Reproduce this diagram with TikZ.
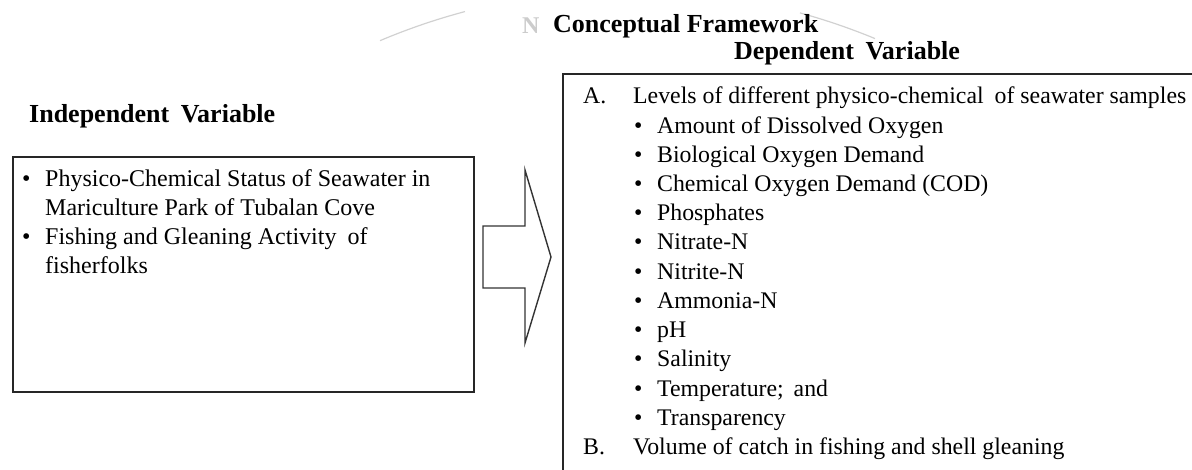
\documentclass[tikz,border=0pt]{standalone}
\usepackage{fontspec}
\setmainfont{Liberation Serif}
\begin{document}
\begin{tikzpicture}[x=1pt,y=-1pt,
  boxline/.style={draw=black!85,line width=1.8pt},
  body/.style={anchor=base west,inner sep=0pt,font=\fontsize{24}{29}\selectfont},
  bodyr/.style={anchor=base west,inner sep=0pt,font=\fontsize{23.8}{29}\selectfont},
  headtxt/.style={anchor=base west,inner sep=0pt,font=\fontsize{26}{30}\selectfont\bfseries},
  wm/.style={draw=black!18,line width=1.2pt},
  wmtxt/.style={anchor=base west,inner sep=0pt,text=black!20,font=\fontsize{24}{28}\selectfont\bfseries}]
\useasboundingbox (0,0) rectangle (1192,470);
\clip (0,0) rectangle (1192,470);
% faint watermark
\draw[wm] plot[domain=380:465,samples=30] (\x,{632-642*sqrt(1-((\x-630)/642)^2)});
\draw[wm] plot[domain=800:875,samples=30] (\x,{632-642*sqrt(1-((\x-630)/642)^2)});
\node[wmtxt] (wm1) at (522,34) {N};
% headings
\node[headtxt] (title) at (553,33) {Conceptual Framework};
\node[headtxt] (dvlabel) at (734,60) {Dependent\hspace{5pt} Variable};
\node[headtxt] (ivlabel) at (29,123) {Independent\hspace{5pt} Variable};
% boxes
\node[boxline,anchor=north west,minimum width=461pt,minimum height=235pt,inner sep=0pt] (ivbox) at (12,156) {};
\node[boxline,anchor=north west,minimum width=700pt,minimum height=450pt,inner sep=0pt] (dvbox) at (562,73) {};
% block arrow
\coordinate (a1) at (483,226);
\coordinate (a2) at (525,226);
\coordinate (a3) at (525,170);
\coordinate (a4) at (551,257);
\coordinate (a5) at (525,343);
\coordinate (a6) at (525,288);
\coordinate (a7) at (483,288);
\draw[draw=black!80,line width=1.4pt,line join=miter] (a1) -- (a2) -- (a3) -- (a4) -- (a5) -- (a6) -- (a7) -- cycle;
% left box text
\node[body] (lb1) at (22,187) {•};
\node[body] (l1) at (45,187) {Physico-Chemical Status of Seawater in};
\node[body] (l2) at (45,216) {Mariculture Park of Tubalan Cove};
\node[body] (lb2) at (22,245) {•};
\node[body] (l3) at (45,245) {Fishing and Gleaning Activity\hspace{5pt} of};
\node[body] (l4) at (45,274) {fisherfolks};
% right box text
\node[bodyr] (ra) at (583,104) {A.};
\node[bodyr] (rat) at (633,104) {Levels of different physico-chemical\hspace{5pt} of seawater samples};
\node[bodyr] (rb1) at (634,133.2) {•};
\node[bodyr] (r1) at (657,133.2) {Amount of Dissolved Oxygen};
\node[bodyr] (rb2) at (634,162.4) {•};
\node[bodyr] (r2) at (657,162.4) {Biological Oxygen Demand};
\node[bodyr] (rb3) at (634,191.6) {•};
\node[bodyr] (r3) at (657,191.6) {Chemical Oxygen Demand (COD)};
\node[bodyr] (rb4) at (634,220.8) {•};
\node[bodyr] (r4) at (657,220.8) {Phosphates};
\node[bodyr] (rb5) at (634,250) {•};
\node[bodyr] (r5) at (657,250) {Nitrate-N};
\node[bodyr] (rb6) at (634,279.2) {•};
\node[bodyr] (r6) at (657,279.2) {Nitrite-N};
\node[bodyr] (rb7) at (634,308.4) {•};
\node[bodyr] (r7) at (657,308.4) {Ammonia-N};
\node[bodyr] (rb8) at (634,337.6) {•};
\node[bodyr] (r8) at (657,337.6) {pH};
\node[bodyr] (rb9) at (634,366.8) {•};
\node[bodyr] (r9) at (657,366.8) {Salinity};
\node[bodyr] (rb10) at (634,396) {•};
\node[bodyr] (r10) at (657,396) {Temperature;\hspace{4pt} and};
\node[bodyr] (rb11) at (634,425.2) {•};
\node[bodyr] (r11) at (657,425.2) {Transparency};
\node[bodyr] (rb) at (583,454.4) {B.};
\node[bodyr] (rbt) at (633,454.4) {Volume of catch in fishing and shell gleaning};
\end{tikzpicture}
\end{document}
